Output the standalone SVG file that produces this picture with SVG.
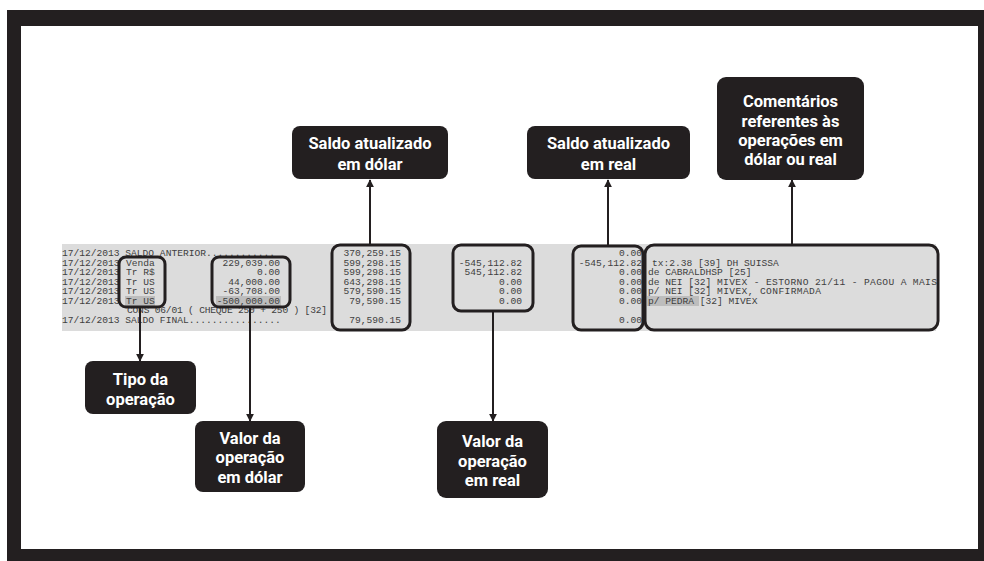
<svg xmlns="http://www.w3.org/2000/svg" width="984" height="561" viewBox="0 0 984 561">
<defs>
<style>
.lbl{fill:#231f20}
.lt{font-family:Roboto,"Liberation Sans",sans-serif;font-weight:700;font-size:16.5px;fill:#fff;text-anchor:middle}
.m{font-family:"Liberation Mono","DejaVu Sans Mono",monospace;font-size:9.6px;fill:#404040}
.e{text-anchor:end}
.hl{fill:none;stroke:#231f20;stroke-width:3}
.con{stroke:#231f20;stroke-width:2;fill:none;marker-end:url(#ah)}
</style>
<marker id="ah" viewBox="0 0 10 10" refX="9" refY="5" markerWidth="4" markerHeight="4" orient="auto" markerUnits="strokeWidth">
<path d="M0,0 L10,5 L0,10 z" fill="#231f20"/>
</marker>
</defs>
<rect x="7" y="10" width="977" height="551" fill="#231f20"/>
<rect x="21" y="26" width="957" height="523" fill="#fff"/>
<g id="ledger">
<rect x="62" y="244" width="874" height="87" fill="#dcdcdc"/>
<rect x="125" y="296" width="30" height="10" fill="#bdbdbd"/>
<rect x="216" y="296" width="65" height="10" fill="#bdbdbd"/>
<rect x="647" y="296" width="52" height="10" fill="#bdbdbd"/>
<text class="m" x="62" y="256">17/12/2013 SALDO ANTERIOR............</text>
<text class="m" x="62" y="265.5">17/12/2013</text>
<text class="m" x="62" y="275">17/12/2013</text>
<text class="m" x="62" y="284.5">17/12/2013</text>
<text class="m" x="62" y="294">17/12/2013</text>
<text class="m" x="62" y="303.5">17/12/2013</text>
<text class="m" x="126" y="265.5">Venda</text>
<text class="m" x="126" y="275">Tr R$</text>
<text class="m" x="126" y="284.5">Tr US</text>
<text class="m" x="126" y="294">Tr US</text>
<text class="m" x="126" y="303.5">Tr US</text>
<text class="m e" x="280" y="265.5">229,039.00</text>
<text class="m e" x="280" y="275">0.00</text>
<text class="m e" x="280" y="284.5">44,000.00</text>
<text class="m e" x="280" y="294">-63,708.00</text>
<text class="m e" x="280" y="303.5">-500,000.00</text>
<text class="m" x="127" y="313" textLength="200">CONS 06/01 ( CHEQUE 250 + 250 ) [32]</text>
<text class="m" x="62" y="322.5">17/12/2013 SALDO FINAL................</text>
<text class="m e" x="401" y="256">370,259.15</text>
<text class="m e" x="401" y="265.5">599,298.15</text>
<text class="m e" x="401" y="275">599,298.15</text>
<text class="m e" x="401" y="284.5">643,298.15</text>
<text class="m e" x="401" y="294">579,590.15</text>
<text class="m e" x="401" y="303.5">79,590.15</text>
<text class="m e" x="401" y="322.5">79,590.15</text>
<text class="m e" x="522" y="265.5">-545,112.82</text>
<text class="m e" x="522" y="275">545,112.82</text>
<text class="m e" x="522" y="284.5">0.00</text>
<text class="m e" x="522" y="294">0.00</text>
<text class="m e" x="522" y="303.5">0.00</text>
<text class="m e" x="642" y="256">0.00</text>
<text class="m e" x="642" y="265.5">-545,112.82</text>
<text class="m e" x="642" y="275">0.00</text>
<text class="m e" x="642" y="284.5">0.00</text>
<text class="m e" x="642" y="294">0.00</text>
<text class="m e" x="642" y="303.5">0.00</text>
<text class="m e" x="642" y="322.5">0.00</text>
<text class="m" x="652" y="265.5">tx:2.38 [39] DH SUISSA</text>
<text class="m" x="648" y="275">de CABRALDHSP [25]</text>
<text class="m" x="648" y="284.5">de NEI [32]</text>
<text class="m" x="717" y="284.5" textLength="220">MIVEX - ESTORNO 21/11 - PAGOU A MAIS</text>
<text class="m" x="648" y="294">p/ NEI [32]</text>
<text class="m" x="717" y="294" textLength="104">MIVEX, CONFIRMADA</text>
<text class="m" x="648" y="303.5">p/ PEDRA [32] MIVEX</text>
</g>
<g id="highlights">
<rect class="hl" x="119" y="257" width="46" height="50" rx="7"/>
<rect class="hl" x="212" y="257" width="78" height="50" rx="7"/>
<rect class="hl" x="332" y="245" width="78" height="85" rx="8"/>
<rect class="hl" x="453" y="245" width="80" height="66" rx="8"/>
<rect class="hl" x="573" y="246" width="70" height="84" rx="8"/>
<rect class="hl" x="645" y="245" width="293" height="85" rx="9"/>
</g>
<g id="connectors">
<line class="con" x1="140" y1="308" x2="140" y2="361"/>
<line class="con" x1="250" y1="308" x2="250" y2="421"/>
<line class="con" x1="370" y1="244" x2="370" y2="180"/>
<line class="con" x1="493" y1="312" x2="493" y2="421"/>
<line class="con" x1="608" y1="245" x2="608" y2="180"/>
<line class="con" x1="792" y1="244" x2="792" y2="180"/>
</g>
<g id="n-saldo-dolar">
<rect class="lbl" x="292" y="126" width="156" height="53" rx="8"/>
<text class="lt" x="370" y="149">Saldo atualizado</text>
<text class="lt" x="370" y="170">em dólar</text>
</g>
<g id="n-saldo-real">
<rect class="lbl" x="527" y="126" width="163" height="53" rx="8"/>
<text class="lt" x="608.5" y="149">Saldo atualizado</text>
<text class="lt" x="608.5" y="170">em real</text>
</g>
<g id="n-comentarios">
<rect class="lbl" x="717" y="77" width="147" height="103" rx="9"/>
<text class="lt" x="790.5" y="107">Comentários</text>
<text class="lt" x="790.5" y="127">referentes às</text>
<text class="lt" x="790.5" y="146">operações em</text>
<text class="lt" x="790.5" y="165">dólar ou real</text>
</g>
<g id="n-tipo">
<rect class="lbl" x="85" y="361" width="111" height="53" rx="8"/>
<text class="lt" x="140.5" y="385">Tipo da</text>
<text class="lt" x="140.5" y="405">operação</text>
</g>
<g id="n-valor-dolar">
<rect class="lbl" x="195" y="421" width="110" height="71" rx="8"/>
<text class="lt" x="250" y="444">Valor da</text>
<text class="lt" x="250" y="463">operação</text>
<text class="lt" x="250" y="483">em dólar</text>
</g>
<g id="n-valor-real">
<rect class="lbl" x="437" y="421" width="111" height="77" rx="9"/>
<text class="lt" x="492.5" y="447">Valor da</text>
<text class="lt" x="492.5" y="467">operação</text>
<text class="lt" x="492.5" y="486">em real</text>
</g>
</svg>
